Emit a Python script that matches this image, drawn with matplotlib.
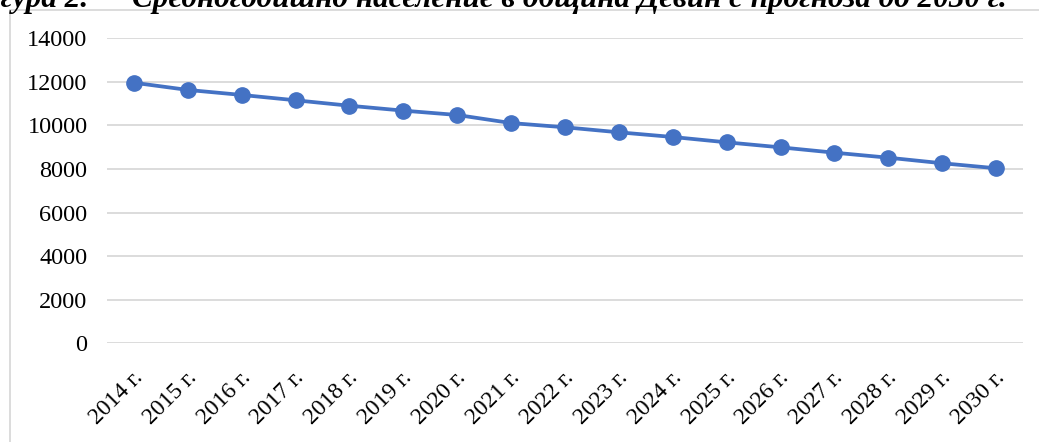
import matplotlib
matplotlib.use("Agg")
import matplotlib.pyplot as plt
import matplotlib.transforms as mtransforms
from matplotlib.patches import Rectangle

# данни (прочетени от графиката)
years = ["2014 г.", "2015 г.", "2016 г.", "2017 г.", "2018 г.", "2019 г.",
         "2020 г.", "2021 г.", "2022 г.", "2023 г.", "2024 г.", "2025 г.",
         "2026 г.", "2027 г.", "2028 г.", "2029 г.", "2030 г."]
population = [11960, 11630, 11400, 11155, 10905, 10680, 10480, 10110,
              9915, 9685, 9470, 9225, 8995, 8750, 8520, 8265, 8035]
yticks = [0, 2000, 4000, 6000, 8000, 10000, 12000, 14000]

W, H = 1039, 442
fig = plt.figure(figsize=(W / 100, H / 100), dpi=100)
ax = fig.add_axes([107 / W, 1 - 343.3 / H, (1023 - 107) / W, (343.3 - 38.3) / H])

blue = "#4472C4"
grid = "#D9D9D9"
serif = "Liberation Serif"

x = list(range(len(years)))
ax.plot(x, population, color=blue, lw=2.7, marker="o", ms=11,
        solid_capstyle="round", zorder=3)

ax.set_xlim(-0.5, len(years) - 0.5)
ax.set_ylim(0, 14000)
ax.set_yticks(yticks)
ax.set_yticklabels([str(v) for v in yticks], fontfamily=serif, fontsize=17.5)
ax.set_xticks(x)
ax.set_xticklabels(years, fontfamily=serif, fontsize=17, rotation=45,
                   ha="right", va="top", rotation_mode="anchor")
ax.tick_params(length=0)
ax.tick_params(axis="y", pad=14)
ax.tick_params(axis="x", pad=17)
ax.grid(axis="y", color=grid, lw=1.3)
ax.set_axisbelow(True)
for s in ax.spines.values():
    s.set_visible(False)

# малък сдвиг на етикетите по x
off = mtransforms.ScaledTranslation(-2 / 100, 0, fig.dpi_scale_trans)
for lab in ax.get_xticklabels():
    lab.set_transform(lab.get_transform() + off)

# рамка на диаграмата
fig.patches.append(Rectangle((10 / W, -0.5), 2, 1.5 - 10 / H,
                             transform=fig.transFigure, fill=False,
                             ec=grid, lw=1.3))

# заглавие (отрязано отгоре, както в оригинала)
fig.text(88 / W, 1 - 6.5 / H, "Фигура 2.", ha="right", va="baseline",
         fontfamily=serif, fontweight="bold", fontstyle="italic", fontsize=22.4)
fig.text(132 / W, 1 - 6.5 / H,
         "Средногодишно население в община Девин с прогноза до 2030 г.",
         ha="left", va="baseline", fontfamily=serif, fontweight="bold",
         fontstyle="italic", fontsize=22.4)

fig.savefig("out.png", dpi=100)
